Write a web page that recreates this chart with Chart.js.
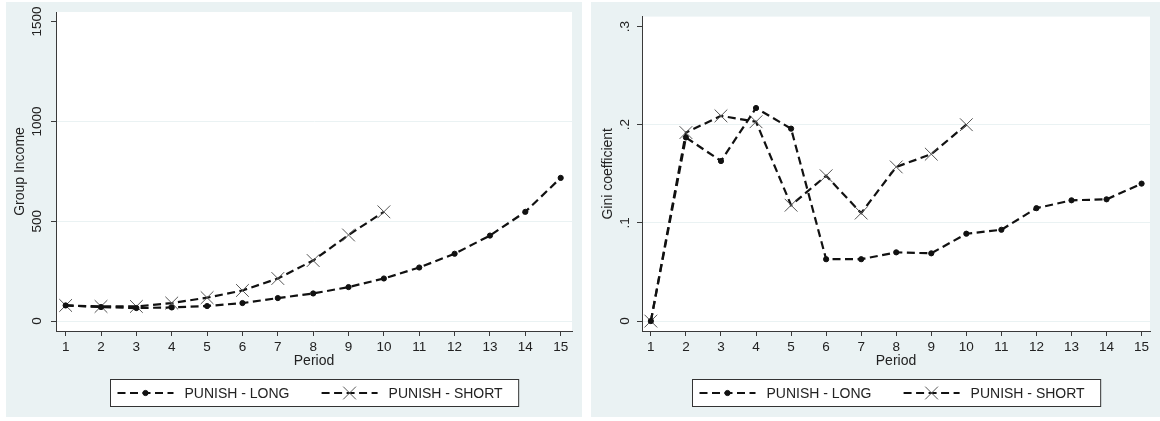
<!DOCTYPE html>
<html>
<head>
<meta charset="utf-8">
<script src="https://cdn.jsdelivr.net/npm/chart.js@4.4.1/dist/chart.umd.min.js"></script>
<style>
html, body { margin: 0; padding: 0; background: #fff; }
body { width: 1160px; height: 421px; position: relative; overflow: hidden; }
.panel { position: absolute; top: 2px; height: 415px; background: rgb(234, 242, 243); }
#p1 { left: 6px; width: 576px; }
#p2 { left: 591px; width: 569px; }
canvas { display: block; }
</style>
</head>
<body>
<div class="panel" id="p1"><canvas id="incomeChart" width="576" height="415"></canvas></div>
<div class="panel" id="p2"><canvas id="giniChart" width="569" height="415"></canvas></div>
<script>
// data
const periods = [1, 2, 3, 4, 5, 6, 7, 8, 9, 10, 11, 12, 13, 14, 15];
const periodsShort = [1, 2, 3, 4, 5, 6, 7, 8, 9, 10];
const seriesNames = ['PUNISH - LONG', 'PUNISH - SHORT'];

const incomeLong = [78, 70, 65, 68, 75, 90, 115, 138, 170, 213, 268, 337, 428, 547, 717];
const incomeShort = [78, 73, 73, 90, 117, 153, 213, 303, 431, 547];
const incomeTicks = [0, 500, 1000, 1500];
const incomeTickLabels = ['0', '500', '1000', '1500'];

const giniLong = [0, 0.187, 0.163, 0.217, 0.196, 0.063, 0.063, 0.070, 0.069, 0.089, 0.093, 0.115, 0.123, 0.124, 0.140];
const giniShort = [0, 0.192, 0.209, 0.203, 0.118, 0.148, 0.110, 0.157, 0.170, 0.200];
const giniTicks = [0, 0.1, 0.2, 0.3];
const giniTickLabels = ['0', '.1', '.2', '.3'];

Chart.defaults.font.family = "'Liberation Sans', Arial, sans-serif";
Chart.defaults.color = '#222';

const AXIS = '#3a3a3a';
const GRID = 'rgb(234, 242, 243)';

// white plot region like stata
const plotBg = {
    id: 'plotBg',
    beforeDraw(chart) {
        const a = chart.chartArea;
        const ctx = chart.ctx;
        ctx.save();
        ctx.fillStyle = '#fff';
        ctx.fillRect(a.left, a.top, a.right - a.left, a.bottom - a.top);
        ctx.restore();
    }
};

// boxed legend with line + marker samples
const boxLegend = {
    id: 'boxLegend',
    afterDraw(chart, args, opts) {
        const ctx = chart.ctx;
        const a = chart.chartArea;
        const sets = chart.data.datasets;
        ctx.save();
        ctx.font = '14px ' + Chart.defaults.font.family;
        let maxText = 0;
        sets.forEach(ds => { maxText = Math.max(maxText, ctx.measureText(ds.label).width); });
        const lineLen = 56, textGap = 11, padL = 7, padR = 16, colSpace = 23;
        const colW = lineLen + textGap + maxText + colSpace;
        const boxW = padL + colW * (sets.length - 1) + lineLen + textGap + maxText + padR;
        const boxH = 27;
        const cx = (a.left + a.right) / 2;
        const bx = Math.round(cx - boxW / 2) + 0.5;
        const by = Math.round(a.bottom + opts.gap) + 0.5;
        ctx.fillStyle = '#fff';
        ctx.fillRect(bx, by, boxW, boxH);
        ctx.strokeStyle = '#333';
        ctx.lineWidth = 1;
        ctx.strokeRect(bx, by, boxW, boxH);
        const cy = by + boxH / 2;
        sets.forEach((ds, i) => {
            const x0 = bx + padL + i * colW;
            ctx.save();
            ctx.strokeStyle = ds.borderColor;
            ctx.lineWidth = ds.borderWidth;
            ctx.setLineDash(ds.borderDash);
            ctx.beginPath();
            ctx.moveTo(x0, cy);
            ctx.lineTo(x0 + lineLen, cy);
            ctx.stroke();
            ctx.setLineDash([]);
            ctx.fillStyle = ds.pointBackgroundColor;
            ctx.strokeStyle = ds.pointBorderColor;
            ctx.lineWidth = ds.pointBorderWidth;
            Chart.helpers.drawPoint(ctx, {
                pointStyle: ds.pointStyle,
                radius: ds.pointRadius,
                borderWidth: ds.pointBorderWidth,
                rotation: 0
            }, x0 + lineLen / 2, cy);
            ctx.restore();
            ctx.fillStyle = '#222';
            ctx.textBaseline = 'middle';
            ctx.textAlign = 'left';
            ctx.fillText(ds.label, x0 + lineLen + textGap, cy + 1);
        });
        ctx.restore();
    }
};

function toPoints(xs, ys) {
    return xs.map((x, i) => ({ x: x, y: ys[i] }));
}

function makeDataset(name, xs, ys, marker) {
    const ds = {
        label: name,
        data: toPoints(xs, ys),
        borderColor: '#111',
        borderWidth: 2.2,
        borderDash: [8, 4.5],
        fill: false,
        tension: 0,
        clip: false
    };
    if (marker === 'dot') {
        ds.pointStyle = 'circle';
        ds.pointRadius = 2.6;
        ds.pointBackgroundColor = '#111';
        ds.pointBorderColor = '#111';
        ds.pointBorderWidth = 1;
    } else {
        ds.pointStyle = 'crossRot';
        ds.pointRadius = 9;
        ds.pointBackgroundColor = 'rgba(0,0,0,0)';
        ds.pointBorderColor = '#555';
        ds.pointBorderWidth = 1;
    }
    return ds;
}

function makeChart(el, s) {
    return new Chart(el, {
        type: 'line',
        data: {
            datasets: [
                makeDataset(seriesNames[0], periods, s.long, 'dot'),
                makeDataset(seriesNames[1], periodsShort, s.short, 'x')
            ]
        },
        options: {
            responsive: false,
            animation: false,
            layout: { padding: s.pad },
            plugins: {
                legend: { display: false },
                tooltip: { enabled: false },
                boxLegend: { gap: 48 }
            },
            scales: {
                x: {
                    type: 'linear',
                    min: s.xMin,
                    max: s.xMax,
                    afterBuildTicks: sc => { sc.ticks = periods.map(v => ({ value: v })); },
                    afterFit: sc => { sc.height = 86; },
                    grid: { drawOnChartArea: false, drawTicks: true, tickLength: 5, tickColor: AXIS },
                    border: { color: AXIS, width: 1 },
                    ticks: { font: { size: 13.5 }, padding: 3, maxRotation: 0, autoSkip: false },
                    title: { display: true, text: 'Period', font: { size: 14 }, color: '#222', padding: { top: 0, bottom: 47 } }
                },
                y: {
                    type: 'linear',
                    min: s.yMin,
                    max: s.yMax,
                    afterBuildTicks: sc => { sc.ticks = s.ticks.map(v => ({ value: v })); },
                    afterFit: sc => { sc.width = s.yWidth; },
                    grid: {
                        color: c => (c.index === s.ticks.length - 1 ? 'rgba(0,0,0,0)' : GRID),
                        lineWidth: 1,
                        drawTicks: true,
                        tickLength: 5,
                        tickColor: AXIS
                    },
                    border: { color: AXIS, width: 1 },
                    ticks: {
                        font: { size: 13.5 },
                        minRotation: 90,
                        maxRotation: 90,
                        crossAlign: 'center',
                        padding: s.tickPad,
                        autoSkip: false,
                        callback: (v, i) => s.tickLabels[i]
                    },
                    title: { display: true, text: s.title, font: { size: 14 }, color: '#222', padding: { top: s.titlePad, bottom: 0 } }
                }
            }
        },
        plugins: [plotBg, boxLegend]
    });
}

makeChart(document.getElementById('incomeChart'), {
    long: incomeLong, short: incomeShort,
    ticks: incomeTicks, tickLabels: incomeTickLabels,
    title: 'Group Income',
    xMin: 0.727, xMax: 15.32, yMin: -50, yMax: 1548,
    pad: { left: 0, top: 9, right: 8, bottom: 0 },
    yWidth: 50, tickPad: -1.5, titlePad: 6
});

makeChart(document.getElementById('giniChart'), {
    long: giniLong, short: giniShort,
    ticks: giniTicks, tickLabels: giniTickLabels,
    title: 'Gini coefficient',
    xMin: 0.747, xMax: 15.24, yMin: -0.0101, yMax: 0.3101,
    pad: { left: 0, top: 11, right: 3, bottom: 0 },
    yWidth: 51, tickPad: 6.5, titlePad: 9
});
</script>
</body>
</html>
